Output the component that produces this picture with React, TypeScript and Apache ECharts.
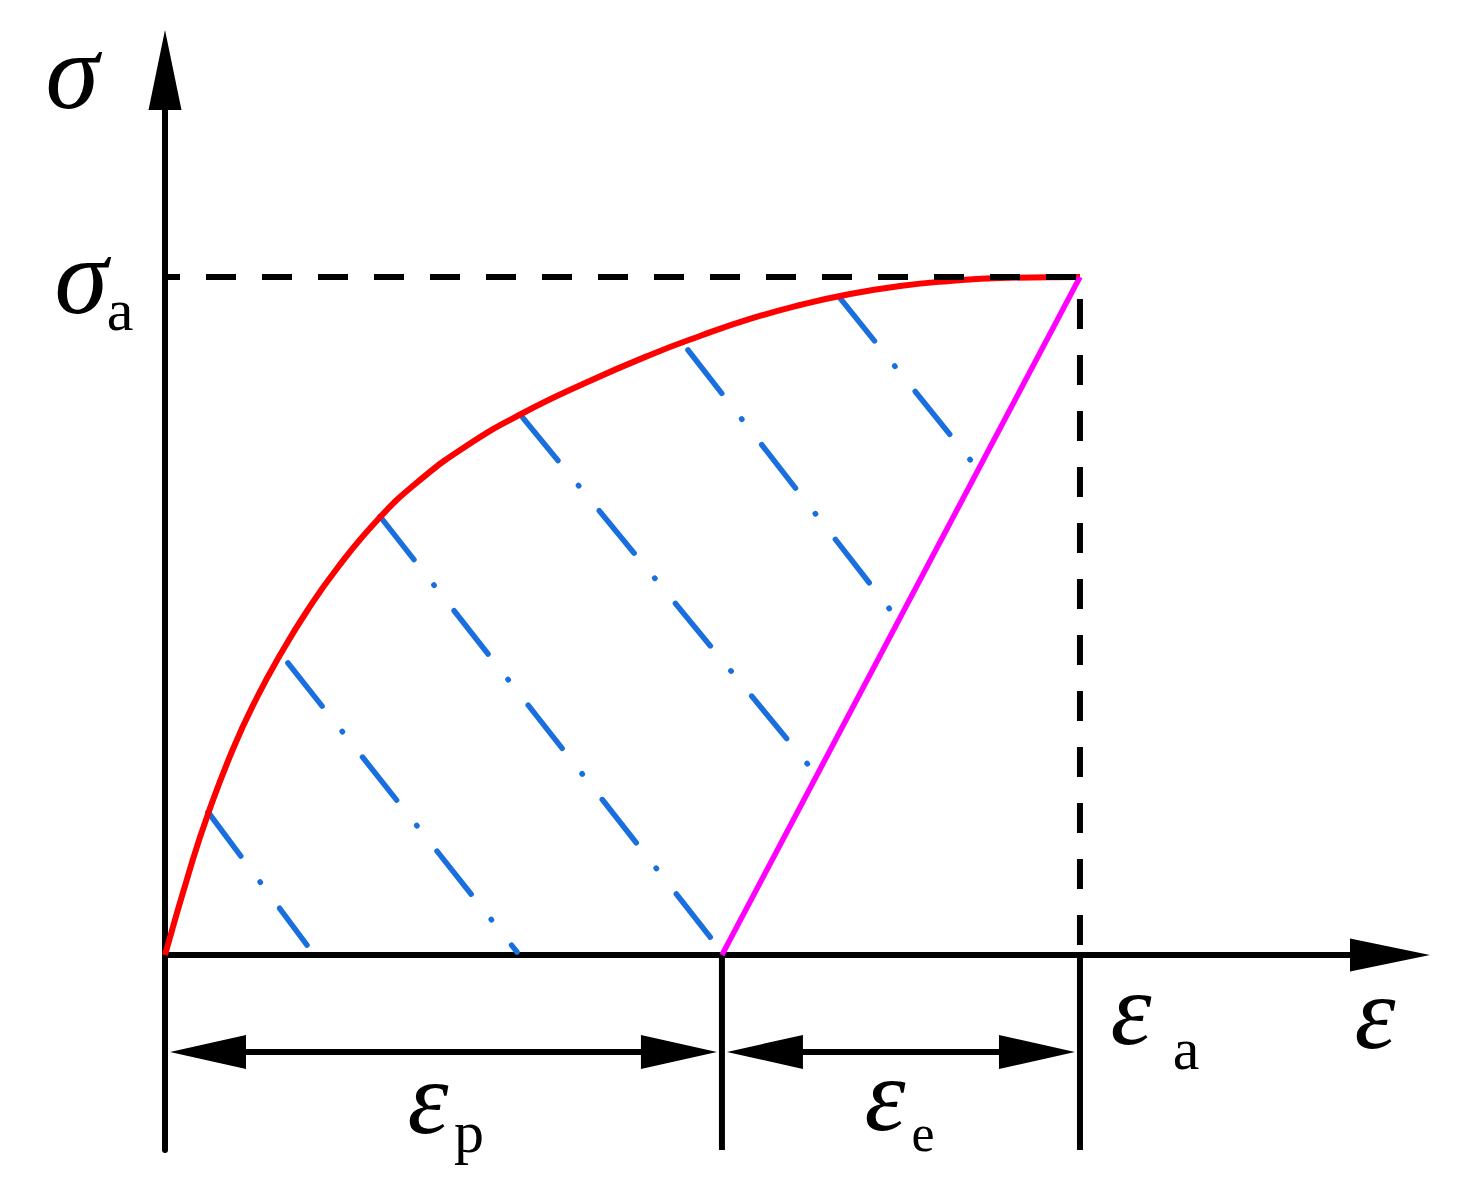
import React, { useEffect, useRef } from "react";
import * as echarts from "echarts";

// ---- data (normalised: strain / εa, stress / σa) ----
const strainAmp = 1; // εa
const stressAmp = 1; // σa
const plasticStrain = 0.6087; // εp end (start of elastic unloading)
const xAxisMax = 1.3607;
const yAxisMax = 1.3348;
const yAxisMin = -0.2876;
const dimRowY = -0.143;

const curveStrain = [0, 0.0273, 0.047, 0.0743, 0.1005, 0.1257, 0.1552, 0.188, 0.2317, 0.2754, 0.3301, 0.3913, 0.4568, 0.5301, 0.5847, 0.6393, 0.694, 0.7432, 0.8033, 0.8579, 0.9126, 1];
const curveStress = [0, 0.1268, 0.208, 0.3038, 0.3798, 0.4425, 0.5074, 0.5701, 0.6409, 0.6969, 0.7515, 0.7994, 0.8422, 0.885, 0.913, 0.9381, 0.9587, 0.9735, 0.9867, 0.9941, 0.9985, 1];

const hatchStart = [
  [0.047, 0.2109],
  [0.1344, 0.4307],
  [0.235, 0.647],
  [0.3913, 0.792],
  [0.5716, 0.8923],
  [0.7377, 0.969],
];
const hatchEnd = [
  [0.1552, 0.0147],
  [0.3847, 0.0044],
  [0.6087, 0.0044],
  [0.7049, 0.2773],
  [0.7945, 0.5059],
  [0.882, 0.7271],
];

const dimSpans = [
  [0, plasticStrain],
  [plasticStrain, strainAmp],
];

const serif = '"Liberation Serif", "Times New Roman", serif';

export default function App() {
  const ref = useRef<HTMLDivElement>(null);
  useEffect(() => {
    const chart = echarts.init(ref.current!, null, { renderer: "svg" });
    const curveData = curveStrain.map((x, i) => [x, curveStress[i]]);
    const hatchSeries = hatchStart.map((s, i) => ({
      type: "line",
      data: [s, hatchEnd[i]],
      symbol: "none",
      silent: true,
      lineStyle: { color: "#1a6fde", width: 5.5, type: [55, 32.25, 0.5, 32.25], cap: "round" },
    }));
    const axisLineStyle = { color: "#000", width: 6 };
    chart.setOption({
      animation: false,
      backgroundColor: "#fff",
      grid: { left: 165, right: 50, top: 50, bottom: 45, containLabel: false, outerBoundsMode: "none" },
      xAxis: {
        type: "value",
        min: 0,
        max: xAxisMax,
        axisLine: {
          show: true,
          onZero: true,
          lineStyle: axisLineStyle,
          symbol: ["none", "triangle"],
          symbolSize: [33, 80],
          symbolOffset: [0, -20],
        },
        axisTick: { show: false },
        axisLabel: { show: false },
        splitLine: { show: false },
      },
      yAxis: {
        type: "value",
        min: yAxisMin,
        max: yAxisMax,
        axisLine: {
          show: true,
          lineStyle: axisLineStyle,
          symbol: ["none", "triangle"],
          symbolSize: [33, 80],
          symbolOffset: [0, -20],
        },
        axisTick: { show: false },
        axisLabel: { show: false },
        splitLine: { show: false },
      },
      series: [
        ...hatchSeries,
        {
          type: "line",
          data: curveData,
          symbol: "none",
          smooth: 0.5,
          silent: true,
          lineStyle: { color: "#ff0000", width: 6 },
        },
        {
          type: "line",
          data: [
            [plasticStrain, 0],
            [strainAmp, stressAmp],
          ],
          symbol: "none",
          silent: true,
          lineStyle: { color: "#ff00ff", width: 5.5 },
        },
        {
          type: "line",
          data: [
            [0, stressAmp],
            [strainAmp, stressAmp],
            [strainAmp, 0],
          ],
          symbol: "none",
          silent: true,
          lineStyle: { color: "#000", width: 6, type: [30, 26], dashOffset: 15 },
        },
        {
          type: "custom",
          silent: true,
          data: dimSpans,
          encode: { x: [0, 1] },
          renderItem: (params: any, api: any) => {
            const x0 = api.value(0);
            const x1 = api.value(1);
            const p0 = api.coord([x0, dimRowY]);
            const p1 = api.coord([x1, dimRowY]);
            const top = api.coord([x1, 0]);
            const bot = api.coord([x1, yAxisMin]);
            const L = 76;
            const H = 17;
            const gap = 5;
            const a = p0[0] + gap;
            const b = p1[0] - gap;
            const y = p0[1];
            return {
              type: "group",
              children: [
                { type: "line", shape: { x1: a + L / 2, y1: y, x2: b - L / 2, y2: y }, style: { stroke: "#000", lineWidth: 6 } },
                { type: "polygon", shape: { points: [[a, y], [a + L, y - H], [a + L, y + H]] }, style: { fill: "#000" } },
                { type: "polygon", shape: { points: [[b, y], [b - L, y - H], [b - L, y + H]] }, style: { fill: "#000" } },
                { type: "line", shape: { x1: top[0], y1: top[1], x2: bot[0], y2: bot[1] }, style: { stroke: "#000", lineWidth: 6 } },
              ],
            };
          },
        },
      ],
      graphic: [
        { type: "text", x: 72, y: 71, style: { text: "σ", fontSize: 108, fontStyle: "italic", fontFamily: serif, fill: "#000", align: "center", verticalAlign: "middle" } },
        { type: "text", x: 81, y: 276, style: { text: "σ", fontSize: 108, fontStyle: "italic", fontFamily: serif, fill: "#000", align: "center", verticalAlign: "middle" } },
        { type: "text", x: 120, y: 310, style: { text: "a", fontSize: 60, fontFamily: serif, fill: "#000", align: "center", verticalAlign: "middle" } },
        { type: "text", x: 1131, y: 1008, style: { text: "ε", fontSize: 104, fontStyle: "italic", fontFamily: serif, fill: "#000", align: "center", verticalAlign: "middle" } },
        { type: "text", x: 1186, y: 1049, style: { text: "a", fontSize: 60, fontFamily: serif, fill: "#000", align: "center", verticalAlign: "middle" } },
        { type: "text", x: 1375, y: 1012, style: { text: "ε", fontSize: 104, fontStyle: "italic", fontFamily: serif, fill: "#000", align: "center", verticalAlign: "middle" } },
        { type: "text", x: 428, y: 1097, style: { text: "ε", fontSize: 104, fontStyle: "italic", fontFamily: serif, fill: "#000", align: "center", verticalAlign: "middle" } },
        { type: "text", x: 469, y: 1132, style: { text: "p", fontSize: 60, fontFamily: serif, fill: "#000", align: "center", verticalAlign: "middle" } },
        { type: "text", x: 885, y: 1094, style: { text: "ε", fontSize: 104, fontStyle: "italic", fontFamily: serif, fill: "#000", align: "center", verticalAlign: "middle" } },
        { type: "text", x: 923, y: 1133, style: { text: "e", fontSize: 52, fontFamily: serif, fill: "#000", align: "center", verticalAlign: "middle" } },
      ],
    });
    return () => chart.dispose();
  }, []);
  return (
    <div
      ref={ref}
      style={{ position: "absolute", left: 0, top: 0, width: 1460, height: 1195, background: "#fff" }}
    />
  );
}
